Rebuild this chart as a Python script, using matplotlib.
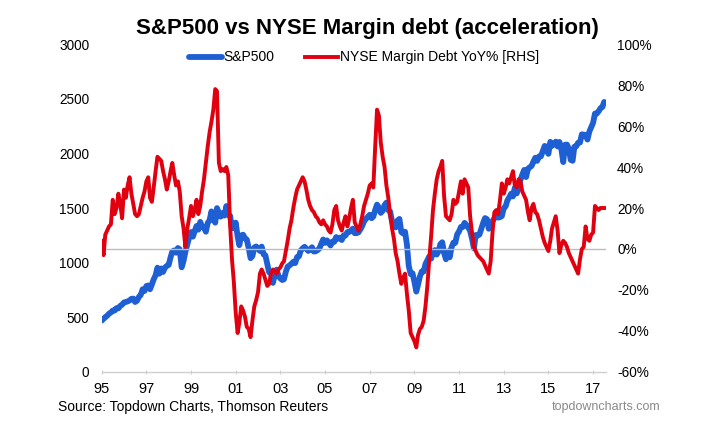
import matplotlib
matplotlib.use("Agg")
import matplotlib.pyplot as plt
import pandas as pd

plt.rcParams['font.family'] = ['Liberation Sans', 'DejaVu Sans']

# ---- data (monthly, Jan 1995 - Jul 2017) ----
spx = [
    470, 487, 501, 515, 533, 545, 562, 562, 584, 582, 605, 616,      # 1995
    636, 640, 646, 654, 669, 671, 640, 652, 687, 705, 757, 741,      # 1996
    786, 791, 757, 801, 848, 885, 954, 899, 947, 915, 955, 970,      # 1997
    980, 1049, 1102, 1112, 1091, 1134, 1121, 957, 1017, 1099, 1164, 1229,  # 1998
    1280, 1238, 1286, 1335, 1302, 1373, 1329, 1320, 1283, 1363, 1389, 1469,  # 1999
    1394, 1366, 1499, 1452, 1421, 1455, 1431, 1518, 1437, 1429, 1315, 1320,  # 2000
    1366, 1240, 1160, 1249, 1256, 1224, 1211, 1134, 1041, 1060, 1139, 1148,  # 2001
    1130, 1107, 1147, 1077, 1067, 990, 912, 916, 815, 886, 936, 880,        # 2002
    856, 841, 848, 917, 964, 975, 990, 1008, 996, 1051, 1058, 1112,         # 2003
    1131, 1145, 1126, 1107, 1121, 1141, 1102, 1104, 1115, 1130, 1174, 1212,  # 2004
    1181, 1204, 1181, 1157, 1192, 1191, 1234, 1220, 1229, 1207, 1249, 1248,  # 2005
    1280, 1281, 1295, 1311, 1270, 1270, 1277, 1304, 1336, 1378, 1401, 1418,  # 2006
    1438, 1407, 1421, 1482, 1531, 1503, 1455, 1474, 1527, 1549, 1481, 1468,  # 2007
    1379, 1331, 1323, 1386, 1400, 1280, 1267, 1283, 1165, 969, 896, 903,    # 2008
    826, 735, 798, 873, 919, 919, 987, 1021, 1057, 1036, 1096, 1115,        # 2009
    1074, 1104, 1169, 1187, 1089, 1031, 1102, 1049, 1141, 1183, 1181, 1258,  # 2010
    1286, 1327, 1326, 1364, 1345, 1321, 1292, 1219, 1131, 1253, 1247, 1258,  # 2011
    1312, 1366, 1408, 1398, 1310, 1362, 1379, 1407, 1441, 1412, 1416, 1426,  # 2012
    1498, 1515, 1569, 1598, 1631, 1606, 1686, 1633, 1682, 1757, 1806, 1848,  # 2013
    1783, 1859, 1872, 1884, 1924, 1960, 1931, 1972, 1972, 2018, 2068, 2059,  # 2014
    1995, 2105, 2068, 2086, 2107, 2063, 2104, 2040, 1920, 2079, 2080, 2044,  # 2015
    1940, 1932, 2060, 2065, 2097, 2099, 2174, 2171, 2168, 2126, 2199, 2239,  # 2016
    2279, 2364, 2363, 2384, 2412, 2423, 2470,                               # 2017
]

margin_yoy = [
    4, -3, 7, 9, 11, 12, 24, 17, 20, 27, 22, 15,          # 1995
    29, 25, 31, 35, 27, 22, 17, 16, 17, 21, 25, 28,       # 1996
    33, 35, 25, 23, 30, 38, 45, 44, 43, 38, 34, 29,       # 1997
    33, 38, 42, 36, 31, 33, 28, 16, 10, 1, 10, 15,        # 1998
    21, 16, 19, 24, 17, 21, 28, 34, 42, 50, 57, 62,       # 1999
    68, 78, 77, 42, 38, 39, 38, 40, 36, 12, -5, -16,      # 2000
    -31, -41, -36, -28, -30, -33, -38, -39, -43, -35, -28, -25,  # 2001
    -21, -12, -10, -12, -15, -18, -17, -12, -10, -11, -12, -10,  # 2002
    -9, -7, -6, -1, 4, 10, 14, 20, 25, 29, 31, 33,        # 2003
    35, 33, 29, 24, 21, 19, 18, 16, 15, 13, 12, 14,       # 2004
    12, 11, 9, 8, 12, 19, 21, 14, 11, 9, 13, 16,          # 2005
    11, 15, 20, 24, 13, 11, 9, 12, 16, 21, 24, 27,        # 2006
    31, 32, 30, 50, 68, 65, 52, 45, 40, 31, 25, 17,       # 2007
    10, 5, -2, -6, -12, -17, -14, -12, -22, -30, -41, -43,  # 2008
    -45, -48, -42, -39, -38, -35, -28, -18, -5, 6, 19, 27,  # 2009
    34, 38, 40, 43, 26, 16, 15, 14, 17, 24, 22, 23,       # 2010
    28, 33, 27, 34, 32, 30, 16, 8, 1, -1, -3, -4,         # 2011
    -5, -6, -8, -10, -12, -6, 8, 18, 19, 17, 24, 32,      # 2012
    27, 30, 34, 32, 35, 38, 31, 30, 34, 33, 28, 26,       # 2013
    24, 18, 14, 20, 22, 18, 17, 14, 10, 6, 3, 1,          # 2014
    -1, 4, 10, 13, 16, 9, -2, 2, 4, 3, 1, -2,             # 2015
    -4, -6, -8, -10, -12, -5, 0, 1, 11, 5, 4, 7,          # 2016
    8, 21, 20, 19, 20, 20, 20,                            # 2017
]

dates = pd.date_range("1995-01-01", periods=len(spx), freq="MS")

tick_years = [1995, 1997, 1999, 2001, 2003, 2005, 2007, 2009, 2011, 2013, 2015, 2017]
tick_labels = ["95", "97", "99", "01", "03", "05", "07", "09", "11", "13", "15", "17"]
left_ticks = [0, 500, 1000, 1500, 2000, 2500, 3000]
right_ticks = [-60, -40, -20, 0, 20, 40, 60, 80, 100]

title = "S&P500 vs NYSE Margin debt (acceleration)"
label_spx = "S&P500"
label_margin = "NYSE Margin Debt YoY% [RHS]"
source = "Source: Topdown Charts, Thomson Reuters"
brand = "topdowncharts.com"

# ---- figure ----
fig = plt.figure(figsize=(7.08, 4.29), dpi=100)
ax = fig.add_axes([0.1436, 0.1329, 0.856 - 0.1436, 0.8974 - 0.1329])
ax2 = ax.twinx()

blue = "#1f5fd4"
red = "#e0000f"

l1, = ax.plot(dates, spx, color=blue, lw=4.2, solid_capstyle="round",
              solid_joinstyle="round", label=label_spx)
ax2.axhline(0, color="#bdbdbd", lw=1.0, zorder=0)
l2, = ax2.plot(dates, margin_yoy, color=red, lw=2.8, solid_joinstyle="round",
               label=label_margin)

ax.set_ylim(0, 3000)
ax2.set_ylim(-60, 100)
ax.set_xlim(pd.Timestamp("1995-01-01"), pd.Timestamp("2017-08-01"))

ax.set_yticks(left_ticks)
ax.set_yticklabels([str(v) for v in left_ticks])
ax2.set_yticks(right_ticks)
ax2.set_yticklabels([f"{v}%" for v in right_ticks])
ax.set_xticks([pd.Timestamp(f"{y}-01-01") for y in tick_years])
ax.set_xticklabels(tick_labels)

for a in (ax, ax2):
    for s in ("top", "left", "right", "bottom"):
        a.spines[s].set_visible(False)
ax.spines["bottom"].set_visible(True)
ax.spines["bottom"].set_color("#cfcfcf")
ax.spines["bottom"].set_linewidth(1.0)

ax.tick_params(axis="y", length=0, pad=9, labelsize=9.8)
ax2.tick_params(axis="y", length=0, pad=8, labelsize=9.8)
ax.tick_params(axis="x", length=3, direction="inout", color="#cfcfcf",
               pad=6, labelsize=10.5)

fig.text(0.519, 0.933, title, ha="center", va="center", fontsize=16,
         fontweight="bold")
fig.legend(handles=[l1, l2], loc="center", bbox_to_anchor=(0.514, 0.866),
           ncol=2, frameon=False, fontsize=10, handlelength=2.4,
           handletextpad=0.1, columnspacing=2.2)
fig.text(0.082, 0.052, source, ha="left", va="center", fontsize=10)
fig.text(0.933, 0.052, brand, ha="right", va="center", fontsize=9,
         color="#8a8a8a")

fig.savefig("out.png", dpi=100)
